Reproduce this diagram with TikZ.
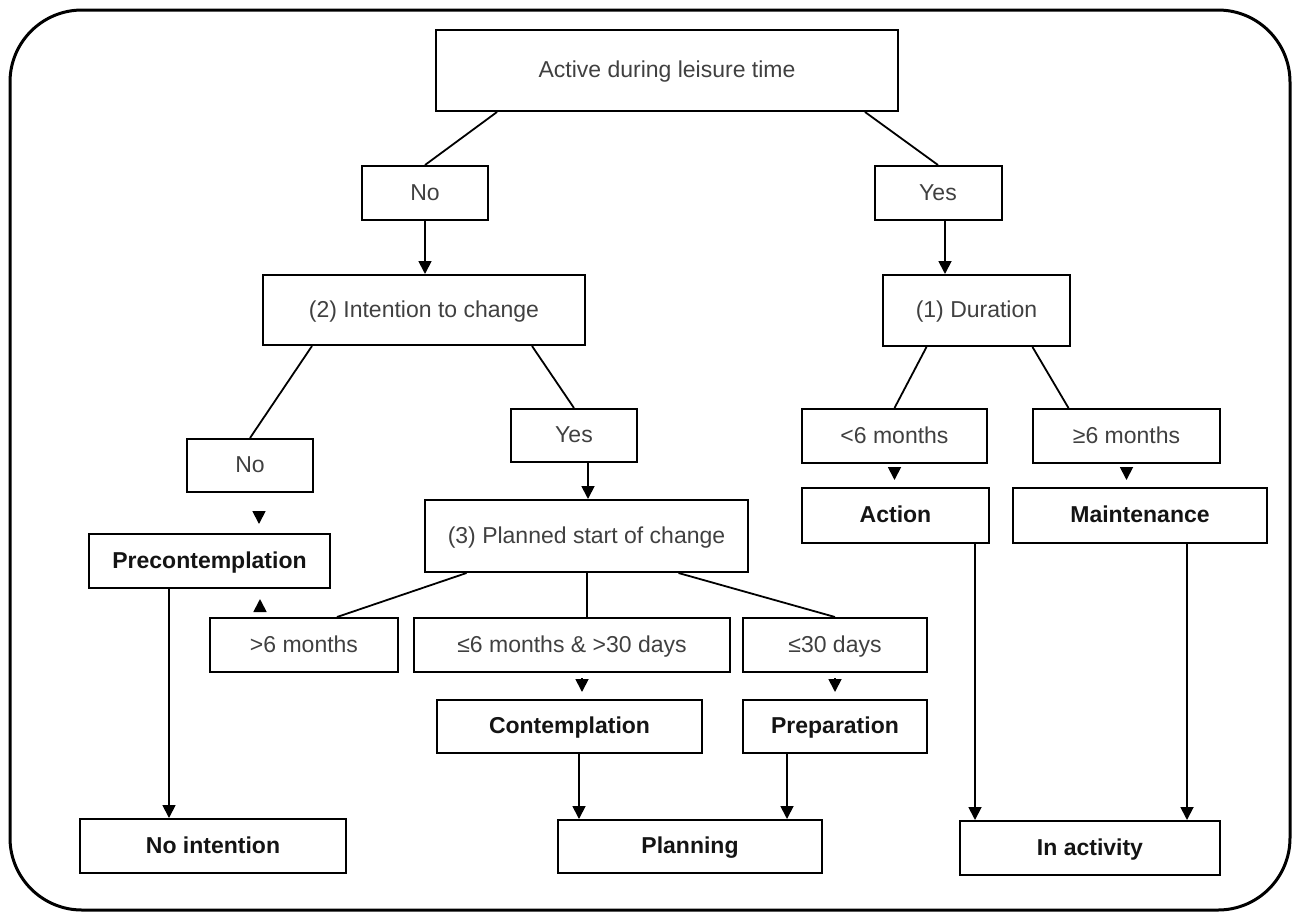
\documentclass[tikz,border=0pt]{standalone}
\usepackage{fontspec}
\setmainfont{Liberation Sans}
\usetikzlibrary{arrows.meta}
\definecolor{txtgray}{RGB}{64,64,64}
\definecolor{txtdark}{RGB}{20,20,20}
\tikzset{
	box/.style={draw, line width=1pt, inner sep=0pt, minimum height=27pt, text height=0.72em, text depth=0pt, text=txtgray, font=\fontsize{11.5}{14}\selectfont},
	stage/.style={box, text=txtdark, font=\fontsize{11.5}{14}\selectfont\bfseries},
	link/.style={line width=0.9pt},
	tip/.style={link, -{Triangle[width=6.5pt,length=6.5pt]}},
	stub/.style={tip, shorten <=2.5pt, shorten >=3.5pt}
}

\begin{document}
\begin{tikzpicture}[x=0.5pt, y=-0.5pt]
		\useasboundingbox (0,0) rectangle (1292,912);
		\draw[line width=1.5pt, rounded corners=36pt] (10,10) rectangle (1290,910);

		\node[box, minimum width=231pt, minimum height=40.5pt] (active) at (667, 70.5) {Active during leisure time};
		\node[box, minimum width=63pt] (no1) at (425, 193) {No};
		\node[box, minimum width=63.5pt] (yes1) at (938, 193) {Yes};

		\node[box, minimum width=161pt, minimum height=35pt] (intent) at (424, 310) {(2) Intention to change};
		\node[box, minimum width=93.5pt, minimum height=35.5pt] (durat) at (976.5, 310.5) {(1) Duration};

		\node[box, minimum width=63pt, minimum height=26.5pt] (no2) at (250, 465.5) {No};
		\node[box, minimum width=63pt, minimum height=26.5pt] (yes2) at (574, 435.5) {Yes};
		\node[box, minimum width=161.5pt, minimum height=36pt] (planned) at (586.5, 536) {(3) Planned start of change};
		\node[stage, minimum width=120.5pt] (precont) at (209.5, 561) {Precontemplation};

		\node[box, minimum width=94pt] (gt6) at (304, 645) {>6 months};
		\node[box, minimum width=158pt] (mid) at (572, 645) {≤6 months \& >30 days};
		\node[box, minimum width=92pt] (le30) at (835, 645) {≤30 days};
		\node[stage, minimum width=132.5pt, minimum height=26.5pt] (contemp) at (569.5, 726.5) {Contemplation};
		\node[stage, minimum width=92pt, minimum height=26.5pt] (prep) at (835, 726.5) {Preparation};

		\node[box, minimum width=92.5pt] (lt6) at (894.5, 436) {<6 months};
		\node[box, minimum width=93.5pt] (ge6) at (1126.5, 436) {≥6 months};
		\node[stage, minimum width=93.5pt, minimum height=27.5pt] (action) at (895.5, 515.5) {Action};
		\node[stage, minimum width=127pt, minimum height=27.5pt] (maint) at (1140, 515.5) {Maintenance};

		\node[stage, minimum width=133pt] (noint) at (213, 846) {No intention};
		\node[stage, minimum width=132pt, minimum height=26.5pt] (plan) at (690, 846.5) {Planning};
		\node[stage, minimum width=130pt] (inact) at (1090, 848) {In activity};

		\draw[link] ([xshift=-85pt]active.south) -- (no1.north);
		\draw[link] ([xshift=99pt]active.south) -- (yes1.north);
		\draw[tip] (no1.south) -- (no1.south |- intent.north);
		\draw[tip] ([xshift=3.5pt]yes1.south) -- ([xshift=3.5pt]yes1.south |- durat.north);

		\draw[link] ([xshift=-56pt]intent.south) -- (no2.north);
		\draw[link] ([xshift=54pt]intent.south) -- (yes2.north);
		\draw[tip] ([xshift=7pt]yes2.south) -- ([xshift=7pt]yes2.south |- planned.north);
		\draw[stub, shorten <=10pt, shorten >=4.5pt] ([xshift=4.5pt]no2.south) -- ([xshift=4.5pt]no2.south |- precont.north);
		\draw[stub, shorten <=3.5pt, shorten >=5pt] ([xshift=-22pt]gt6.north) -- ([xshift=-22pt]gt6.north |- precont.south);

		\draw[link] ([xshift=-60pt]planned.south) -- ([xshift=16.5pt]gt6.north);
		\draw[link] ([xshift=0.25pt]planned.south) -- ([xshift=0.25pt]planned.south |- mid.north);
		\draw[link] ([xshift=46pt]planned.south) -- (le30.north);
		\draw[stub] ([xshift=5pt]mid.south) -- ([xshift=5pt]mid.south |- contemp.north);
		\draw[stub] (le30.south) -- (le30.south |- prep.north);
		\draw[tip] ([xshift=4.75pt]contemp.south) -- ([xshift=4.75pt]contemp.south |- plan.north);
		\draw[tip] ([xshift=-24pt]prep.south) -- ([xshift=-24pt]prep.south |- plan.north);
		\draw[tip] ([xshift=-20.25pt]precont.south) -- ([xshift=-20.25pt]precont.south |- noint.north);

		\draw[link] ([xshift=-25pt]durat.south) -- (lt6.north);
		\draw[link] ([xshift=28pt]durat.south) -- ([xshift=-29pt]ge6.north);
		\draw[stub] (lt6.south) -- (lt6.south |- action.north);
		\draw[stub] (ge6.south) -- (ge6.south |- maint.north);
		\draw[tip] ([xshift=39.75pt]action.south) -- ([xshift=39.75pt]action.south |- inact.north);
		\draw[tip] ([xshift=23.5pt]maint.south) -- ([xshift=23.5pt]maint.south |- inact.north);
	\end{tikzpicture}
\end{document}
